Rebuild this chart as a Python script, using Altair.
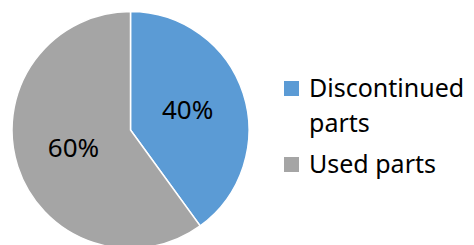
import altair as alt
import pandas as pd

categories = ["Discontinued parts", "Used parts"]
values = [40, 60]
labels = ["40%", "60%"]
colors = ["#5B9BD5", "#A5A5A5"]

df = pd.DataFrame({"category": categories, "value": values, "label": labels, "order": [0, 1]})

base = alt.Chart(df).encode(
    theta=alt.Theta("value:Q", stack=True),
    order=alt.Order("order:Q"),
)

arc = base.mark_arc(outerRadius=118.5, stroke="white", strokeWidth=1.5).encode(
    color=alt.Color(
        "category:N",
        scale=alt.Scale(domain=categories, range=colors),
        legend=alt.Legend(
            title=None,
            orient="none",
            legendX=271,
            legendY=71,
            symbolType="M-1,-2.07H1V-0.07H-1Z",
            symbolSize=225,
            symbolStrokeWidth=0,
            labelFont="Noto Sans",
            labelFontSize=25,
            labelColor="#000000",
            labelLimit=250,
            labelOffset=5,
            labelBaseline="alphabetic",
            rowPadding=15,
            labelExpr="datum.label == 'Discontinued parts' ? ['Discontinued', 'parts'] : datum.label",
        ),
    )
)

text = base.mark_text(radius=60, font="Noto Sans", fontSize=26, color="#000000").encode(
    text="label:N"
)

chart = (arc + text).properties(
    width=245, height=234, padding={"left": 0, "top": 0, "right": 0, "bottom": 0}
).configure_view(stroke=None).configure(
    style={"guide-label": {"lineHeight": 35}}
)

chart.save("out.html", embed_options={"renderer": "svg", "actions": False})
